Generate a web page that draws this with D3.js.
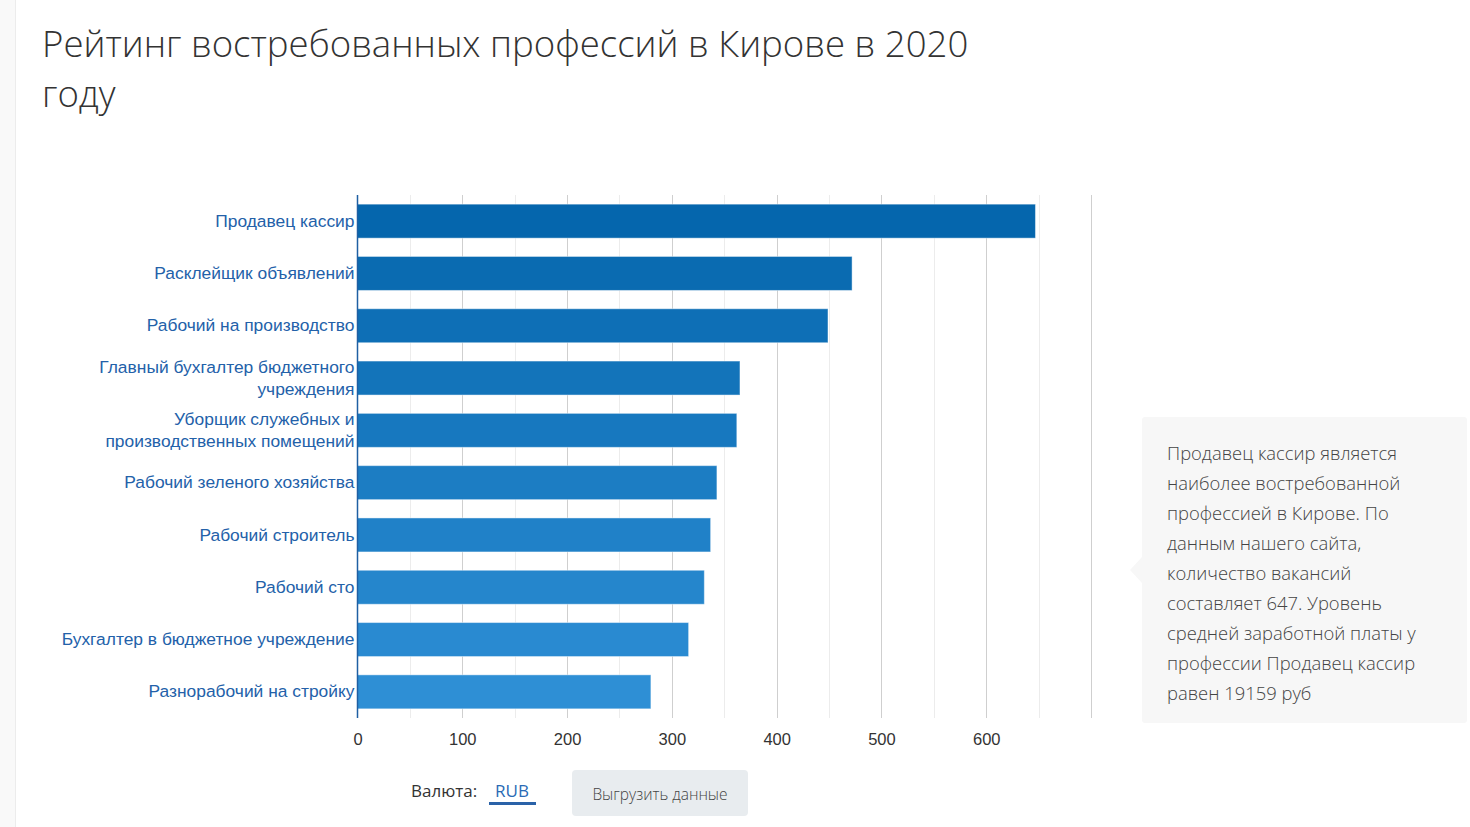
<!DOCTYPE html>
<html>
<head>
<meta charset="utf-8">
<script src="https://cdn.jsdelivr.net/npm/d3@7"></script>
<style>
  body { margin: 0; background: #fff; }
  svg { display: block; }
</style>
</head>
<body>
<svg id="chart" width="1470" height="827"></svg>
<script>
var categories = [
  "Продавец кассир",
  "Расклейщик объявлений",
  "Рабочий на производство",
  "Главный бухгалтер бюджетного учреждения",
  "Уборщик служебных и производственных помещений",
  "Рабочий зеленого хозяйства",
  "Рабочий строитель",
  "Рабочий сто",
  "Бухгалтер в бюджетное учреждение",
  "Разнорабочий на стройку"
];
var vacancies = [647, 472, 449, 365, 362, 343, 337, 331, 316, 280];
var tickLabels = [0, 100, 200, 300, 400, 500, 600];
var topSalary = 19159;

var svg = d3.select("#chart");
var W = 1470, H = 827;
var mLeft = 357.5, mRight = 1091, mTop = 195, mBottom = 718;

// фон страницы слева
svg.append("rect").attr("x", 0).attr("y", 0).attr("width", 16).attr("height", H).attr("fill", "#f9f9f9");
svg.append("line").attr("x1", 15.5).attr("x2", 15.5).attr("y1", 0).attr("y2", H).attr("stroke", "#ececec");

// заголовок
var title = svg.append("text")
  .attr("x", 42).attr("y", 57)
  .attr("font-family", "'Open Sans', sans-serif").attr("font-weight", 300)
  .attr("font-size", 36.6).attr("fill", "#333");
title.append("tspan").attr("x", 42).text("Рейтинг востребованных профессий в Кирове в 2020");
title.append("tspan").attr("x", 42).attr("dy", 50).text("году");

// шкалы
var x = d3.scaleLinear().domain([0, 700]).range([mLeft, mRight]);
var y = d3.scaleBand().domain(categories).range([mTop, mBottom]).paddingInner(0.35).paddingOuter(0.175);

// сетка
var gridVals = d3.range(50, 701, 50);
svg.append("g").selectAll("line").data(gridVals).join("line")
  .attr("x1", function(d){ return Math.round(x(d)) + 0.5; })
  .attr("x2", function(d){ return Math.round(x(d)) + 0.5; })
  .attr("y1", mTop).attr("y2", mBottom)
  .attr("stroke", function(d){ return d % 100 === 0 ? "#cfcfcf" : "#ececec"; })
  .attr("stroke-width", 1);

// столбцы
var colorScale = d3.scaleLinear().domain([0, categories.length - 1]).range(["#0566ad", "#2e8fd5"]);
svg.append("g").selectAll("rect").data(vacancies).join("rect")
  .attr("x", x(0))
  .attr("y", function(d, i){ return y(categories[i]); })
  .attr("width", function(d){ return x(d) - x(0); })
  .attr("height", y.bandwidth())
  .attr("fill", function(d, i){ return colorScale(i); })
  .attr("stroke", "rgba(255,255,255,0.45)")
  .attr("stroke-width", 1);

// ось Y
svg.append("line").attr("x1", mLeft).attr("x2", mLeft).attr("y1", mTop).attr("y2", mBottom)
  .attr("stroke", "#1f5fa3").attr("stroke-width", 1.5);

var yAxis = d3.axisLeft(y).tickSize(0).tickPadding(3);
var gy = svg.append("g").attr("transform", "translate(" + mLeft + ",0)").call(yAxis);
gy.select(".domain").remove();
gy.selectAll("text")
  .attr("font-family", "'Liberation Sans', Arial, sans-serif")
  .attr("font-size", 17.4).attr("fill", "#2361a9")
  .each(function(d){
    var t = d3.select(this), words = d.split(" "), lines = [], cur = [];
    t.text(null);
    var probe = t.append("tspan");
    words.forEach(function(w){
      cur.push(w);
      probe.text(cur.join(" "));
      if (probe.node().getComputedTextLength() > 305 && cur.length > 1) {
        cur.pop(); lines.push(cur.join(" ")); cur = [w];
      }
    });
    lines.push(cur.join(" "));
    probe.remove();
    var lh = 22, fs = 17.4, x0 = t.attr("x");
    lines.forEach(function(l, k){
      t.append("tspan").attr("x", x0)
        .attr("dy", k === 0 ? ((0.32 - (lines.length - 1) * lh / 2 / fs) + "em") : lh + "px")
        .text(l);
    });
    t.attr("dy", null);
  });

// ось X
var xAxis = d3.axisBottom(x).tickValues(tickLabels).tickSize(0).tickPadding(15);
var gx = svg.append("g").attr("transform", "translate(0," + mBottom + ")").call(xAxis);
gx.select(".domain").remove();
gx.selectAll("text")
  .attr("font-family", "'Liberation Sans', Arial, sans-serif")
  .attr("font-size", 16.5).attr("fill", "#333");

// подсказка
var tip = svg.append("g");
tip.append("rect").attr("x", 1142).attr("y", 417).attr("width", 325).attr("height", 306)
  .attr("rx", 3).attr("fill", "#f7f7f7");
tip.append("path").attr("d", "M1142,557 L1130,570 L1142,583 Z").attr("fill", "#f7f7f7");
var tipLines = [
  categories[0] + " является",
  "наиболее востребованной",
  "профессией в Кирове. По",
  "данным нашего сайта,",
  "количество вакансий",
  "составляет " + vacancies[0] + ". Уровень",
  "средней заработной платы у",
  "профессии " + categories[0],
  "равен " + topSalary + " руб"
];
tip.append("g").selectAll("text").data(tipLines).join("text")
  .attr("x", 1167).attr("y", function(d, i){ return 460 + i * 30; })
  .attr("font-family", "'Open Sans', sans-serif").attr("font-weight", 300)
  .attr("font-size", 18.4).attr("fill", "#444")
  .text(function(d){ return d; });

// нижние элементы
svg.append("text").attr("x", 411).attr("y", 797)
  .attr("font-family", "'Open Sans', sans-serif").attr("font-size", 17).attr("fill", "#333")
  .text("Валюта:");
svg.append("text").attr("x", 512).attr("y", 797).attr("text-anchor", "middle")
  .attr("font-family", "'Open Sans', sans-serif").attr("font-size", 17).attr("fill", "#2a6ab5")
  .text("RUB");
svg.append("rect").attr("x", 489).attr("y", 802).attr("width", 47).attr("height", 3).attr("fill", "#2a62a8");
svg.append("rect").attr("x", 572).attr("y", 770).attr("width", 176).attr("height", 46)
  .attr("rx", 4).attr("fill", "#e8ecef");
svg.append("text").attr("x", 660).attr("y", 800).attr("text-anchor", "middle")
  .attr("font-family", "'Open Sans', sans-serif").attr("font-weight", 300)
  .attr("font-size", 15.5).attr("fill", "#444")
  .text("Выгрузить данные");
</script>
</body>
</html>
